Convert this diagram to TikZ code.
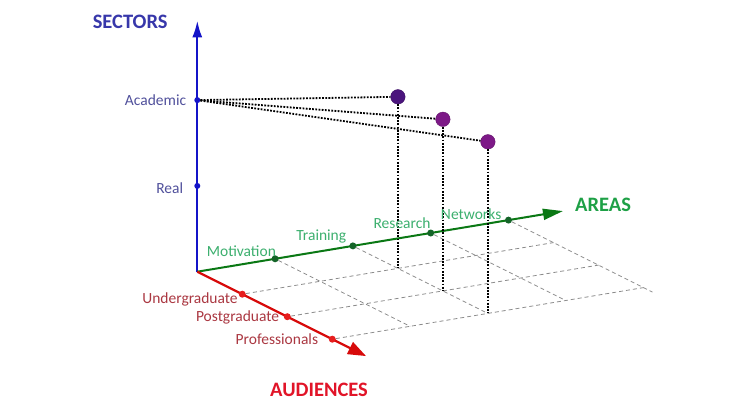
\documentclass[tikz,border=0pt]{standalone}
\usepackage{fontspec}
\setmainfont{Carlito}
\usepackage{tikz}
\usetikzlibrary{calc, positioning, arrows.meta}

\definecolor{secblue}{RGB}{20,20,200}
\definecolor{sectext}{RGB}{55,55,170}
\definecolor{seclab}{RGB}{80,80,155}
\definecolor{areagreen}{RGB}{10,120,20}
\definecolor{areatick}{RGB}{20,100,40}
\definecolor{arealab}{RGB}{60,175,110}
\definecolor{areatitle}{RGB}{30,160,70}
\definecolor{audred}{RGB}{215,10,10}
\definecolor{audtick}{RGB}{230,30,30}
\definecolor{audlab}{RGB}{170,55,65}
\definecolor{audtitle}{RGB}{225,20,40}
\definecolor{ballA}{RGB}{75,20,125}
\definecolor{ballB}{RGB}{125,25,135}
\definecolor{gridgrey}{RGB}{140,140,140}

\begin{document}
\begin{tikzpicture}[
    x = {(77.8pt,12.9pt)}, y = {(45pt,-22.5pt)}, z = {(0pt,85.8pt)},
    tick/.style = {circle, fill, inner sep = 0pt, minimum size = 7pt},
    lab/.style = {inner sep = 0pt, anchor = east, font = \fontsize{15.5}{18}\selectfont},
    axisname/.style = {inner sep = 0pt, font = \fontsize{20.5}{24}\selectfont\bfseries},
    gridline/.style = {gridgrey, line width = 0.8pt, dash pattern = on 4pt off 3pt},
    guide/.style = {black, line width = 1.8pt, dash pattern = on 1.8pt off 1.4pt},
    ball/.style = {circle, inner sep = 0pt, minimum size = 14.5pt}
  ]
  \path[use as bounding box] (-197.3pt,-144.3pt) rectangle (542.7pt,271.7pt);

  \coordinate (O) at (0,0,0);
  \coordinate (xend) at (4.7,0,0);
  \coordinate (yend) at (0,3.75,0);
  \coordinate (zend) at (0,0,2.93);

  % axes
  \draw[secblue, line width = 2.4pt, -{Latex[length=17pt, width=10pt]}] (O) -- (zend);
  \draw[areagreen, line width = 2pt, -{Triangle[length=20pt, width=11pt]}] (O) -- (xend);
  \draw[audred, line width = 2.3pt, -{Triangle[length=18pt, width=13pt]}] (O) -- (yend);

  % ticks
  \node[tick, secblue, minimum size = 6pt] (real) at (0,0,1) {};
  \node[tick, secblue, minimum size = 6pt] (acad) at (0,0,2) {};
  \foreach \i/\n in {1/mot, 2/tra, 3/res, 4/net}
    \node[tick, areatick] (\n) at (\i,0,0) {};
  \foreach \j/\n in {1/ug, 2/pg, 3/pro}
    \node[tick, audtick] (\n) at (0,\j,0) {};

  % floor grid
  \foreach \j/\n in {1/ug, 2/pg, 3/pro} {
    \coordinate (rowend\n) at (4,\j,0);
    \draw[gridline] (\n) -- (rowend\n);
  }
  \foreach \i/\n/\e in {1/mot/3, 2/tra/3, 3/res/3, 4/net/3.2} {
    \coordinate (colend\n) at (\i,\e,0);
    \draw[gridline] (\n) -- (colend\n);
  }

  % points
  \foreach \j in {1,2,3}
    \coordinate (foot\j) at (2,\j,0);
  \node[ball, fill = ballA, draw = ballA!80!black] (p1) at (2,1,2) {};
  \node[ball, fill = ballB, draw = ballB!80!black] (p2) at (2,2,2) {};
  \node[ball, fill = ballB, draw = ballB!80!black] (p3) at (2,3,2) {};
  \foreach \j in {1,2,3} {
    \draw[guide] (acad) -- (p\j);
    \draw[guide] (p\j) -- (foot\j);
  }

  % Labels
  \node[lab, seclab] (lacad) at ($(acad)+(-11pt,0pt)$) {Academic};
  \node[lab, seclab] (lreal) at ($(real)+(-14pt,-2pt)$) {Real};
  \foreach \n/\t/\dx/\dy in {mot/Motivation/1pt/7.5pt, tra/Training/-6.5pt/9pt,
                             res/Research/0pt/10pt, net/Networks/-7pt/5.5pt}
    \node[lab, arealab] (l\n) at ($(\n)+(\dx,\dy)$) {\t};
  \foreach \n/\t/\dx/\dy in {ug/Undergraduate/-4.5pt/-5pt, pg/Postgraduate/-8pt/-1pt,
                             pro/Professionals/-14pt/0pt}
    \node[lab, audlab] (l\n) at ($(\n)+(\dx,\dy)$) {\t};

  \node[axisname, sectext, left = 29.5pt of zend, yshift = -2pt] (sectors) {SECTORS};
  \node[axisname, areatitle, right = 12pt of xend, yshift = 6pt] (areas) {AREAS};
  \node[axisname, audtitle, below = 27pt of yend, xshift = -47pt] (audiences) {AUDIENCES};

\end{tikzpicture}
\end{document}
